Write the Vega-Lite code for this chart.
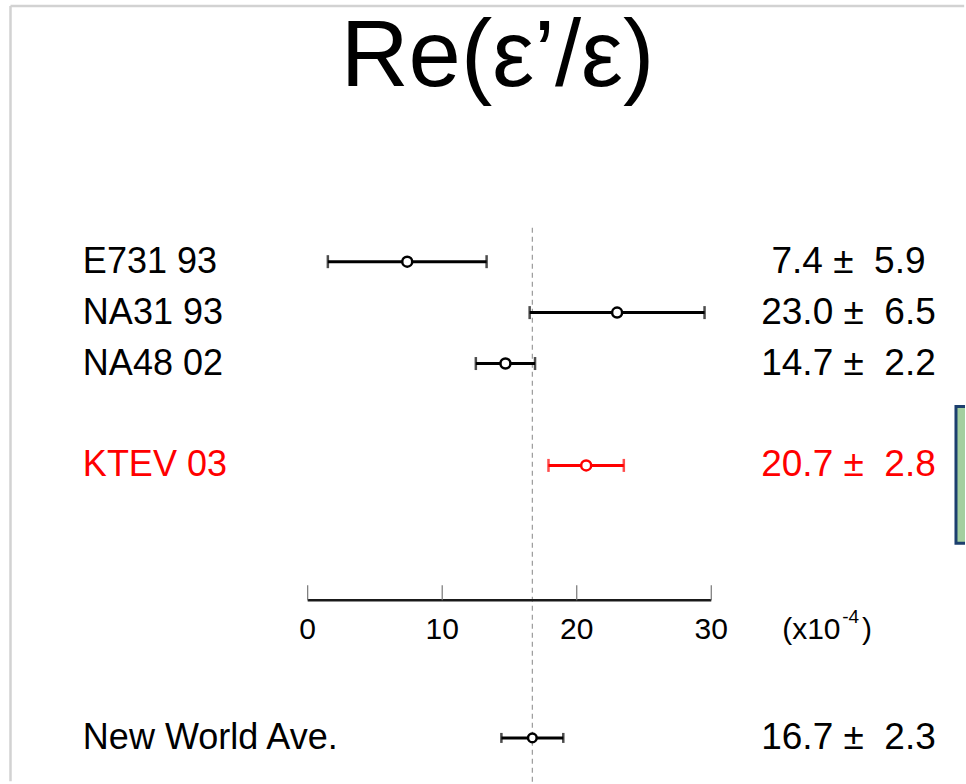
{
  "$schema": "https://vega.github.io/schema/vega-lite/v6.json",
  "width": 966,
  "height": 784,
  "autosize": {"type": "fit", "contains": "padding"},
  "padding": 0,
  "background": "white",
  "config": {"view": {"stroke": null}, "text": {"font": "Liberation Sans"}},
  "datasets": {
    "rows": [
      {"exp": "E731 93", "kind": "measurement", "slot": 0, "val": 7.4, "lo": 1.5, "hi": 13.3, "label": "7.4 ± \u00a05.9"},
      {"exp": "NA31 93", "kind": "measurement", "slot": 1, "val": 23.0, "lo": 16.5, "hi": 29.5, "label": "23.0 ± \u00a06.5"},
      {"exp": "NA48 02", "kind": "measurement", "slot": 2, "val": 14.7, "lo": 12.5, "hi": 16.9, "label": "14.7 ± \u00a02.2"},
      {"exp": "KTEV 03", "kind": "measurement", "slot": 4, "val": 20.7, "lo": 17.9, "hi": 23.5, "label": "20.7 ± \u00a02.8"},
      {"exp": "New World Ave.", "kind": "average", "slot": 9.35, "val": 16.7, "lo": 14.4, "hi": 19.0, "label": "16.7 ± \u00a02.3"}
    ],
    "ticks": [{"v": 0}, {"v": 10}, {"v": 20}, {"v": 30}],
    "one": [{}]
  },
  "data": {"name": "rows"},
  "resolve": {"scale": {"size": "independent"}},
  "layer": [
    {
      "data": {"name": "one"},
      "mark": {"type": "rule", "color": "#d2d2d2", "strokeWidth": 2.5},
      "encoding": {
        "x": {"datum": -22.09, "type": "quantitative", "scale": {"domain": [-22.87, 48.86], "nice": false, "zero": false}, "axis": null},
        "y": {"datum": -5.02, "type": "quantitative", "scale": {"domain": [-5.137, 10.235], "nice": false, "zero": false, "reverse": true}, "axis": null},
        "y2": {"datum": 10.2}
      }
    },
    {
      "data": {"name": "one"},
      "mark": {"type": "rule", "color": "#d2d2d2", "strokeWidth": 2.5},
      "encoding": {
        "x": {"datum": -22.09, "type": "quantitative"},
        "x2": {"datum": 48.8},
        "y": {"datum": -5.02, "type": "quantitative"}
      }
    },
    {
      "data": {"name": "one"},
      "mark": {"type": "rect", "clip": true, "fill": "#a3cf9f", "stroke": "#1c3f6e", "strokeWidth": 3},
      "encoding": {
        "x": {"datum": 48.19, "type": "quantitative"},
        "x2": {"datum": 50},
        "y": {"datum": 2.843, "type": "quantitative"},
        "y2": {"datum": 5.529}
      }
    },
    {
      "data": {"name": "one"},
      "mark": {"type": "text", "text": "Re(ε’/ε)", "fontSize": 94, "align": "center", "baseline": "alphabetic", "color": "#000000"},
      "encoding": {
        "x": {"datum": 14.11, "type": "quantitative"},
        "y": {"datum": -3.45, "type": "quantitative"}
      }
    },
    {
      "data": {"name": "one"},
      "mark": {"type": "rule", "color": "#9a9a9a", "strokeWidth": 1.2, "strokeDash": [5, 4]},
      "encoding": {
        "x": {"datum": 16.7, "type": "quantitative"},
        "y": {"datum": -0.667, "type": "quantitative"},
        "y2": {"datum": 10.235}
      }
    },
    {
      "data": {"name": "one"},
      "mark": {"type": "rule", "color": "#1a1a1a", "strokeWidth": 2.5},
      "encoding": {
        "x": {"datum": 0, "type": "quantitative"},
        "x2": {"datum": 30},
        "y": {"datum": 6.647, "type": "quantitative"}
      }
    },
    {
      "data": {"name": "ticks"},
      "mark": {"type": "rule", "color": "#777777", "strokeWidth": 1.2},
      "encoding": {
        "x": {"field": "v", "type": "quantitative"},
        "y": {"datum": 6.353, "type": "quantitative"},
        "y2": {"datum": 6.647}
      }
    },
    {
      "data": {"name": "ticks"},
      "mark": {"type": "text", "fontSize": 30, "align": "center", "baseline": "middle", "color": "#000000"},
      "encoding": {
        "x": {"field": "v", "type": "quantitative"},
        "y": {"datum": 7.24, "type": "quantitative"},
        "text": {"field": "v", "type": "quantitative"}
      }
    },
    {
      "data": {"name": "one"},
      "mark": {"type": "text", "text": "(x10", "fontSize": 30, "align": "left", "baseline": "middle", "color": "#000000"},
      "encoding": {
        "x": {"datum": 35.27, "type": "quantitative"},
        "y": {"datum": 7.24, "type": "quantitative"}
      }
    },
    {
      "data": {"name": "one"},
      "mark": {"type": "text", "text": "-4", "fontSize": 19, "align": "left", "baseline": "middle", "color": "#000000"},
      "encoding": {
        "x": {"datum": 39.73, "type": "quantitative"},
        "y": {"datum": 6.98, "type": "quantitative"}
      }
    },
    {
      "data": {"name": "one"},
      "mark": {"type": "text", "text": ")", "fontSize": 30, "align": "left", "baseline": "middle", "color": "#000000"},
      "encoding": {
        "x": {"datum": 41.21, "type": "quantitative"},
        "y": {"datum": 7.24, "type": "quantitative"}
      }
    },
    {
      "mark": {"type": "rule", "strokeWidth": 3},
      "encoding": {
        "x": {"field": "lo", "type": "quantitative"},
        "x2": {"field": "hi"},
        "y": {"field": "slot", "type": "quantitative"},
        "color": {"field": "exp", "type": "nominal", "scale": {"domain": ["E731 93", "NA31 93", "NA48 02", "KTEV 03", "New World Ave."], "range": ["#000000", "#000000", "#000000", "#ff0000", "#000000"]}, "legend": null}
      }
    },
    {
      "mark": {"type": "tick", "orient": "vertical", "thickness": 2.5},
      "encoding": {
        "x": {"field": "lo", "type": "quantitative"},
        "y": {"field": "slot", "type": "quantitative"},
        "size": {"field": "kind", "type": "nominal", "scale": {"domain": ["measurement", "average"], "range": [13, 10]}, "legend": null},
        "color": {"field": "exp", "type": "nominal", "legend": null}
      }
    },
    {
      "mark": {"type": "tick", "orient": "vertical", "thickness": 2.5},
      "encoding": {
        "x": {"field": "hi", "type": "quantitative"},
        "y": {"field": "slot", "type": "quantitative"},
        "size": {"field": "kind", "type": "nominal", "scale": {"domain": ["measurement", "average"], "range": [13, 10]}, "legend": null},
        "color": {"field": "exp", "type": "nominal", "legend": null}
      }
    },
    {
      "mark": {"type": "point", "shape": "circle", "filled": true, "fill": "white", "strokeWidth": 2.5, "opacity": 1},
      "encoding": {
        "x": {"field": "val", "type": "quantitative"},
        "y": {"field": "slot", "type": "quantitative"},
        "size": {"field": "kind", "type": "nominal", "scale": {"domain": ["measurement", "average"], "range": [100, 75]}, "legend": null},
        "stroke": {"field": "exp", "type": "nominal", "scale": {"domain": ["E731 93", "NA31 93", "NA48 02", "KTEV 03", "New World Ave."], "range": ["#000000", "#000000", "#000000", "#ff0000", "#000000"]}, "legend": null}
      }
    },
    {
      "mark": {"type": "text", "fontSize": 36, "align": "left", "baseline": "middle"},
      "encoding": {
        "x": {"datum": -16.71, "type": "quantitative"},
        "y": {"field": "slot", "type": "quantitative"},
        "text": {"field": "exp", "type": "nominal"},
        "color": {"field": "exp", "type": "nominal", "legend": null}
      }
    },
    {
      "mark": {"type": "text", "fontSize": 37, "align": "center", "baseline": "middle"},
      "encoding": {
        "x": {"datum": 40.2, "type": "quantitative"},
        "y": {"field": "slot", "type": "quantitative"},
        "text": {"field": "label", "type": "nominal"},
        "color": {"field": "exp", "type": "nominal", "legend": null}
      }
    }
  ]
}
